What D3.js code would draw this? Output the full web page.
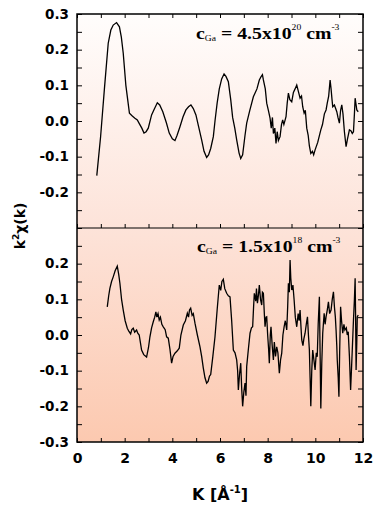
<!DOCTYPE html>
<html>
<head>
<meta charset="utf-8">
<script src="https://cdn.jsdelivr.net/npm/d3@7/dist/d3.min.js"></script>
<style>
  body { margin: 0; background: #fff; }
  svg text { font-family: "DejaVu Sans", sans-serif; font-weight: bold; fill: #000; }
  text.note { font-family: "Liberation Serif", "Times New Roman", serif; }
</style>
</head>
<body>
<svg id="chart" width="377" height="512"></svg>
<script>
// DATA — upper panel, c_Ga = 4.5x10^20
const kTop = [0.83,0.99,1.15,1.31,1.42,1.52,1.66,1.78,1.86,1.94,2.05,2.2,2.32,2.43,2.53,2.62,2.72,2.81,2.9,2.99,
  3.13,3.22,3.37,3.47,3.6,3.75,3.87,4.0,4.11,4.2,4.32,4.45,4.57,4.68,4.78,4.88,4.99,5.1,5.23,5.33,
  5.44,5.52,5.61,5.72,5.79,5.88,5.97,6.07,6.17,6.25,6.35,6.45,6.53,6.62,6.7,6.8,6.87,6.95,7.05,7.12,
  7.25,7.4,7.55,7.65,7.72,7.78,7.82,7.9,7.96,8.03,8.1,8.15,8.2,8.24,8.3,8.35,8.4,8.45,8.52,8.58,
  8.63,8.68,8.77,8.82,8.87,8.93,9.01,9.08,9.15,9.22,9.28,9.36,9.42,9.47,9.53,9.58,9.64,9.7,9.75,9.81,
  9.88,9.93,9.99,10.1,10.23,10.3,10.38,10.45,10.5,10.56,10.62,10.66,10.7,10.73,10.8,10.9,10.95,11.01,11.06,11.11,
  11.16,11.22,11.29,11.35,11.43,11.5,11.55,11.6,11.64,11.67,11.71,11.74,11.8];
const chiTop = [-0.153,-0.044,0.09,0.218,0.255,0.269,0.276,0.264,0.235,0.19,0.1,0.022,0.014,0.008,0.003,-0.008,-0.02,-0.034,-0.03,-0.02,
  0.017,0.03,0.051,0.045,0.026,-0.005,-0.034,-0.05,-0.055,-0.04,-0.016,0.012,0.031,0.04,0.045,0.035,0.017,-0.015,-0.053,-0.085,
  -0.102,-0.095,-0.077,-0.044,0.0,0.05,0.09,0.118,0.132,0.125,0.11,0.06,0.01,-0.02,-0.053,-0.09,-0.105,-0.095,-0.04,-0.006,
  0.03,0.068,0.09,0.115,0.124,0.13,0.115,0.09,0.05,0.03,0.008,-0.02,0.01,-0.035,-0.02,-0.063,-0.03,-0.055,-0.044,-0.01,
  0.003,-0.01,0.012,0.05,0.078,0.06,0.054,0.08,0.09,0.101,0.085,0.064,0.07,0.04,0.022,0.03,-0.02,-0.04,-0.07,-0.091,
  -0.085,-0.095,-0.081,-0.06,-0.025,-0.01,0.02,0.031,0.05,0.07,0.115,0.09,0.06,0.04,0.045,0.026,0.01,-0.006,0.03,0.045,
  0.02,-0.03,-0.072,-0.05,-0.025,-0.028,-0.035,-0.03,0.02,0.064,0.045,0.031,0.026];

// DATA — lower panel, c_Ga = 1.5x10^18
const kBottom = [1.27,1.33,1.38,1.45,1.52,1.6,1.69,1.75,1.8,1.87,1.94,2.02,2.11,2.18,2.25,2.3,2.36,2.42,2.5,2.55,
  2.61,2.71,2.8,2.92,3.0,3.06,3.13,3.2,3.26,3.31,3.35,3.4,3.45,3.5,3.56,3.62,3.7,3.76,3.83,3.9,
  3.97,4.03,4.11,4.2,4.29,4.36,4.46,4.55,4.63,4.68,4.72,4.77,4.83,4.88,4.95,5.05,5.16,5.23,5.3,5.37,
  5.44,5.5,5.56,5.61,5.7,5.79,5.88,5.97,6.03,6.08,6.14,6.2,6.28,6.35,6.42,6.49,6.56,6.63,6.7,6.74,
  6.77,6.82,6.87,6.91,6.95,7.0,7.05,7.09,7.12,7.19,7.26,7.32,7.37,7.41,7.44,7.5,7.53,7.57,7.61,7.65,
  7.7,7.75,7.78,7.82,7.86,7.89,7.93,7.96,8.0,8.04,8.07,8.11,8.14,8.19,8.24,8.28,8.33,8.38,8.43,8.49,
  8.54,8.59,8.64,8.69,8.74,8.8,8.84,8.87,8.91,8.94,8.97,9.01,9.06,9.11,9.16,9.22,9.28,9.32,9.36,9.4,
  9.43,9.48,9.52,9.57,9.62,9.67,9.71,9.75,9.78,9.81,9.85,9.89,9.94,9.99,10.04,10.08,10.12,10.17,10.2,10.23,
  10.27,10.31,10.37,10.41,10.45,10.5,10.55,10.6,10.66,10.71,10.76,10.8,10.84,10.87,10.9,10.92,10.96,10.99,11.02,11.06,
  11.1,11.15,11.2,11.24,11.3,11.34,11.38,11.43,11.48,11.52,11.55,11.6,11.64,11.67,11.69,11.71,11.74,11.76,11.8];
const chiBottom = [0.079,0.11,0.131,0.15,0.163,0.18,0.193,0.17,0.145,0.1,0.07,0.04,0.019,0.01,0.003,0.015,0.019,0.008,0.014,0.005,
  0.0,-0.042,-0.055,-0.062,-0.035,-0.005,0.02,0.037,0.05,0.065,0.05,0.06,0.042,0.05,0.03,0.023,0.015,-0.005,-0.009,-0.04,
  -0.079,-0.06,-0.051,-0.045,-0.037,0.0,0.028,0.04,0.061,0.05,0.07,0.075,0.055,0.06,0.033,0.0,-0.033,-0.06,-0.093,-0.12,
  -0.135,-0.13,-0.115,-0.111,-0.06,-0.005,0.07,0.14,0.125,0.15,0.156,0.13,0.117,0.11,0.107,0.04,-0.042,-0.05,-0.07,-0.1,
  -0.154,-0.11,-0.079,-0.15,-0.2,-0.16,-0.135,-0.17,-0.088,-0.04,0.005,0.02,0.023,0.08,0.117,0.095,0.13,0.089,0.11,0.14,
  0.1,0.084,0.12,0.117,0.06,0.023,0.05,0.051,0.0,-0.04,-0.079,0.0,0.023,-0.03,-0.07,-0.02,-0.06,-0.033,-0.05,-0.107,
  -0.07,-0.051,0.0,0.023,0.04,0.014,0.08,0.145,0.12,0.21,0.16,0.126,0.14,0.098,0.05,0.023,0.06,0.04,0.07,0.02,
  -0.014,-0.03,-0.01,0.005,0.03,0.051,0.0,-0.042,-0.12,-0.2,-0.1,-0.042,-0.07,-0.098,-0.05,-0.061,0.03,0.107,-0.05,-0.206,
  -0.08,0.005,0.061,0.03,0.051,0.07,0.093,0.06,0.07,0.1,0.121,0.08,0.05,0.014,-0.03,-0.07,-0.12,-0.173,-0.05,0.079,
  0.04,0.005,0.03,0.014,0.02,0.0,0.009,-0.06,-0.154,-0.09,-0.042,0.042,0.1,0.159,0.05,-0.098,-0.02,0.051,0.056];

// ticks
const xTickValues = [0, 2, 4, 6, 8, 10, 12];
const xTickLabels = ["0", "2", "4", "6", "8", "10", "12"];
const yTopValues = [0.3, 0.2, 0.1, 0.0, -0.1, -0.2];
const yTopLabels = ["0.3", "0.2", "0.1", "0.0", "-0.1", "-0.2"];
const yBottomValues = [0.2, 0.1, 0.0, -0.1, -0.2, -0.3];
const yBottomLabels = ["0.2", "0.1", "0.0", "-0.1", "-0.2", "-0.3"];

const svg = d3.select("#chart");
const pLeft = 77, pRight = 363, pTop = 14, pMid = 228, pBottom = 442;

const x = d3.scaleLinear().domain([0, 12]).range([pLeft, pRight]);
const yTop = d3.scaleLinear().domain([-0.3, 0.3]).range([pMid, pTop]);
const yBot = d3.scaleLinear().domain([-0.3, 0.3]).range([pBottom, pMid]);

// background gradient
const grad = svg.append("defs").append("linearGradient")
  .attr("id", "bg").attr("gradientUnits", "userSpaceOnUse")
  .attr("x1", 0).attr("x2", 0).attr("y1", pTop).attr("y2", pBottom);
grad.append("stop").attr("offset", 0).attr("stop-color", "#fffdfc");
grad.append("stop").attr("offset", 0.5).attr("stop-color", "#fde3d9");
grad.append("stop").attr("offset", 1).attr("stop-color", "#fcc9b0");

svg.append("rect").attr("x", pLeft).attr("y", pTop)
  .attr("width", pRight - pLeft).attr("height", pBottom - pTop)
  .attr("fill", "url(#bg)");

const minorY = d3.range(-6, 7).map(d => d * 0.05);
const minorX = d3.range(0, 13);

function panel(y, vals, labels, isBottom) {
  const lab = new Map(vals.map((v, i) => [v.toFixed(2), labels[i]]));
  const fmt = d => lab.get(d.toFixed(2)) || "";

  const g = svg.append("g");
  g.append("g").attr("transform", `translate(${pLeft},0)`)
    .call(d3.axisLeft(y).tickValues(minorY).tickFormat(fmt).tickSize(-5).tickPadding(8))
    .call(a => a.select(".domain").remove())
    .call(a => a.selectAll("text").attr("font-size", 13.5).attr("font-family", null));
  g.append("g").attr("transform", `translate(${pRight},0)`)
    .call(d3.axisRight(y).tickValues(minorY).tickFormat("").tickSize(-5))
    .call(a => a.select(".domain").remove());
  const yb = y.range()[0];
  g.append("g").attr("transform", `translate(0,${yb})`)
    .call(d3.axisBottom(x).tickValues(minorX).tickSize(-4).tickPadding(11)
      .tickFormat(d => isBottom && xTickValues.includes(d) ? xTickLabels[xTickValues.indexOf(d)] : ""))
    .call(a => a.select(".domain").remove())
    .call(a => a.selectAll("text").attr("font-size", 14).attr("font-family", null));
  if (!isBottom) {
    g.append("g").attr("transform", `translate(0,${pTop})`)
      .call(d3.axisTop(x).tickValues(minorX).tickFormat("").tickSize(-4))
      .call(a => a.select(".domain").remove());
  }
  g.selectAll(".tick line").attr("stroke", "#000").attr("stroke-width", 1);
}
panel(yTop, yTopValues, yTopLabels, false);
panel(yBot, yBottomValues, yBottomLabels, true);

// curves
const lineTop = d3.line().x((d, i) => x(kTop[i])).y(d => yTop(d));
const lineBot = d3.line().x((d, i) => x(kBottom[i])).y(d => yBot(d));
svg.append("path").attr("d", lineTop(chiTop))
  .attr("fill", "none").attr("stroke", "#000").attr("stroke-width", 1.3);
svg.append("path").attr("d", lineBot(chiBottom))
  .attr("fill", "none").attr("stroke", "#000").attr("stroke-width", 1.3);

// frame
svg.append("rect").attr("x", pLeft).attr("y", pTop)
  .attr("width", pRight - pLeft).attr("height", pBottom - pTop)
  .attr("fill", "none").attr("stroke", "#000").attr("stroke-width", 1.5);
svg.append("line").attr("x1", pLeft).attr("x2", pRight).attr("y1", pMid).attr("y2", pMid)
  .attr("stroke", "#000").attr("stroke-width", 1.2);

// axis titles
const yl = svg.append("text").attr("transform", "translate(25,226) rotate(-90)")
  .attr("text-anchor", "middle").attr("font-size", 14);
yl.append("tspan").text("k");
yl.append("tspan").attr("font-size", 9).attr("dy", -6).text("2");
yl.append("tspan").attr("dy", 6).text("χ(k)");

const xl = svg.append("text").attr("x", 220).attr("y", 500)
  .attr("text-anchor", "middle").attr("font-size", 16);
xl.append("tspan").text("K [Å");
xl.append("tspan").attr("font-size", 10).attr("dy", -7).text("-1");
xl.append("tspan").attr("dy", 7).text("]");

// concentration notes
function note(xp, yp, exp) {
  const t = svg.append("text").attr("class", "note")
    .attr("transform", `translate(${xp},${yp}) scale(1.2,1)`).attr("font-size", 16.5);
  t.append("tspan").text("c");
  t.append("tspan").attr("font-size", 8).attr("font-weight", "normal").attr("dy", 2).text("Ga");
  t.append("tspan").attr("dy", -2).text(" = " + exp[0] + "x10");
  t.append("tspan").attr("font-size", 8).attr("font-weight", "normal").attr("dy", -9).text(exp[1]);
  t.append("tspan").attr("dy", 9).text(" cm");
  t.append("tspan").attr("font-size", 8).attr("font-weight", "normal").attr("dy", -9).text("-3");
}
note(196, 39, ["4.5", "20"]);
note(197, 252, ["1.5", "18"]);
</script>
</body>
</html>
